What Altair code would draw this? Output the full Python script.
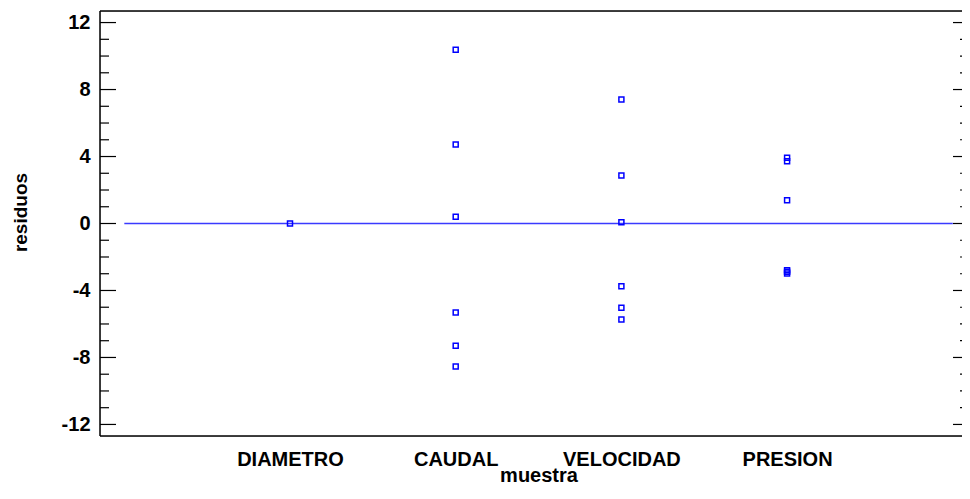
import altair as alt
import pandas as pd

# ---- data ----
categories = ["DIAMETRO", "CAUDAL", "VELOCIDAD", "PRESION"]
cat_pos = [1, 2, 3, 4]
diametro = [0.0]
caudal = [10.37, 4.72, 0.40, -5.31, -7.30, -8.54]
velocidad = [7.40, 2.87, 0.08, -3.74, -5.03, -5.73]
presion = [3.92, 3.72, 1.39, -2.79, -2.88, -2.99]
major_ticks = [-12, -8, -4, 0, 4, 8, 12]
minor_ticks = [-11, -10, -9, -7, -6, -5, -3, -2, -1, 1, 2, 3, 5, 6, 7, 9, 10, 11]
zero_line = {"x0": [0], "x1": [5], "y": [0]}

groups = [diametro, caudal, velocidad, presion]
rows = []
for cat, pos, vals in zip(categories, cat_pos, groups):
    for v in vals:
        rows.append({"muestra": cat, "pos": pos, "residuo": v})
points_df = pd.DataFrame(rows)
major_df = pd.DataFrame({"t": major_ticks})
minor_df = pd.DataFrame({"t": minor_ticks})
zero_df = pd.DataFrame(zero_line)

W = 862
H = 425
FONT = "Liberation Sans"

xscale = alt.Scale(domain=[-0.1467, 5.0556], nice=False, zero=False)
yscale = alt.Scale(domain=[-12.69, 12.69], nice=False, zero=False)

label_expr = "['', 'DIAMETRO', 'CAUDAL', 'VELOCIDAD', 'PRESION', ''][datum.value]"

x_axis = alt.Axis(
    values=cat_pos, labelExpr=label_expr, ticks=False, domain=False, grid=False,
    labelFont=FONT, labelFontSize=20, labelFontWeight="bold", labelColor="black",
    labelPadding=13, title="muestra", titleFont=FONT, titleFontSize=20,
    titleFontWeight="bold", titleColor="black", titleBaseline="alphabetic",
    titleX=438.5, titleY=45, titleAnchor="middle")
y_axis = alt.Axis(
    values=major_ticks, ticks=False, domain=False, grid=False,
    labelExpr="datum.value < 0 ? '-' + abs(datum.value) : '' + datum.value",
    labelFont=FONT, labelFontSize=20, labelFontWeight="bold", labelColor="black",
    labelPadding=10, title="residuos", titleFont=FONT, titleFontSize=19,
    titleFontWeight="bold", titleColor="black", titleBaseline="alphabetic",
    titleAngle=270, titleX=-74, titleY=201, titleAnchor="middle")

zero = alt.Chart(zero_df).mark_rule(color="#3a3aff", strokeWidth=1.5).encode(
    x=alt.X("x0:Q", scale=xscale, axis=x_axis),
    x2="x1:Q",
    y=alt.Y("y:Q", scale=yscale, axis=y_axis),
)

points = alt.Chart(points_df).mark_point(
    shape="square", size=25, strokeWidth=1.5, color="#0000ff", filled=False, opacity=1
).encode(
    x=alt.X("pos:Q", scale=xscale, axis=x_axis),
    y=alt.Y("residuo:Q", scale=yscale, axis=y_axis),
)

def ticks(df, x0, x1):
    return alt.Chart(df).mark_rule(color="black", strokeWidth=1.2).encode(
        x=alt.value(x0), x2=alt.value(x1),
        y=alt.Y("t:Q", scale=yscale, axis=y_axis),
    )

major_left = ticks(major_df, 0, 16)
minor_left = ticks(minor_df, 0, 9)
major_right = ticks(major_df, W - 9, W)
minor_right = ticks(minor_df, W - 2, W)

frame_df = pd.DataFrame({"k": [0]})
top = alt.Chart(frame_df).mark_rule(color="black", strokeWidth=1.5).encode(
    x=alt.value(0), x2=alt.value(W), y=alt.value(0))
bottom = alt.Chart(frame_df).mark_rule(color="black", strokeWidth=1.5).encode(
    x=alt.value(0), x2=alt.value(W), y=alt.value(H))
left = alt.Chart(frame_df).mark_rule(color="black", strokeWidth=1.5).encode(
    x=alt.value(0), y=alt.value(0), y2=alt.value(H))

chart = alt.layer(
    zero, major_left, minor_left, major_right, minor_right, top, bottom, left, points
).properties(
    width=W, height=H,
    autosize=alt.AutoSizeParams(type="none"),
    padding={"left": 92, "top": 3, "right": 0, "bottom": 50},
).configure_view(strokeWidth=0).configure(background="white")

chart.save("out.html", embed_options={"renderer": "svg", "actions": False})
